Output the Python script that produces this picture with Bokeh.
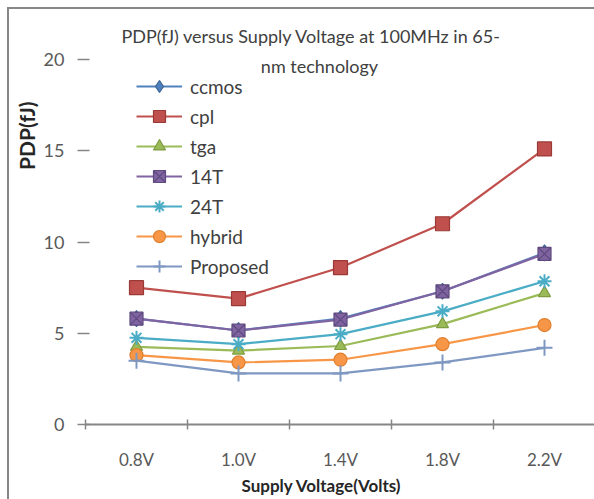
from bokeh.plotting import figure
from bokeh.models import Range1d, FixedTicker, Label, Title
from bokeh.embed import file_html
from bokeh.resources import INLINE

# ---- data ----
categories = ["0.8V", "1.0V", "1.4V", "1.8V", "2.2V"]
ccmos = [5.8, 5.15, 5.8, 7.3, 9.4]
cpl = [7.5, 6.9, 8.6, 11.0, 15.1]
tga = [4.25, 4.05, 4.3, 5.5, 7.2]
t14 = [5.8, 5.15, 5.75, 7.3, 9.35]
t24 = [4.75, 4.4, 4.95, 6.2, 7.85]
hybrid = [3.8, 3.4, 3.55, 4.4, 5.45]
proposed = [3.5, 2.8, 2.8, 3.4, 4.2]
y_ticks = [0, 5, 10, 15, 20]

title_line1 = "PDP(fJ) versus Supply Voltage at 100MHz in 65-"
title_line2 = "nm technology"
x_title = "Supply Voltage(Volts)"
y_title = "PDP(fJ)"

xs = [i + 0.5 for i in range(len(categories))]

FONT = "Lato"

p = figure(frame_width=510, frame_height=365, output_backend="svg", toolbar_location=None,
           x_range=Range1d(0, 5), y_range=Range1d(0, 20),
           min_border_left=75, min_border_right=0, min_border_top=50,
           min_border_bottom=75)
p.styles = {"border-left": "2px solid #878787", "border-top": "2px solid #878787",
            "margin-left": "7px", "margin-top": "7px"}
p.background_fill_color = "white"
p.border_fill_color = "white"
p.outline_line_color = None
p.xgrid.visible = False
p.ygrid.visible = False

# x axis
xa = p.xaxis[0]
xa.ticker = FixedTicker(ticks=xs, minor_ticks=list(range(len(categories) + 1)))
xa.major_label_overrides = {x: c for x, c in zip(xs, categories)}
xa.axis_line_color = "#868686"
xa.axis_line_width = 2
xa.major_tick_line_color = None
xa.major_tick_in = 0
xa.major_tick_out = 0
xa.minor_tick_line_color = "#868686"
xa.minor_tick_line_width = 1.5
xa.minor_tick_in = 5
xa.minor_tick_out = 5
xa.major_label_standoff = 19
xa.major_label_text_font = FONT
xa.major_label_text_font_size = "17px"
xa.major_label_text_color = "#595959"

# y axis
ya = p.yaxis[0]
ya.ticker = FixedTicker(ticks=y_ticks, minor_ticks=[])
ya.axis_line_color = None
ya.major_tick_line_color = "#868686"
ya.major_tick_line_width = 1.5
ya.major_tick_in = 4
ya.major_tick_out = 8
ya.minor_tick_line_color = None
ya.major_label_standoff = 13
ya.major_label_text_font = FONT
ya.major_label_text_font_size = "18px"
ya.major_label_text_color = "#595959"

series = [
    ("ccmos", ccmos, "#4F81BD", "diamond", 16, "#3A6396"),
    ("cpl", cpl, "#C0504D", "square", 14, "#9A3A37"),
    ("tga", tga, "#9BBB59", "triangle", 12, "#7E9C42"),
    ("14T", t14, "#8064A2", "square_x", 13, "#5E4A7E"),
    ("24T", t24, "#4BACC6", "asterisk", 14, "#4BACC6"),
    ("hybrid", hybrid, "#F79646", "circle", 13, "#E07F2E"),
    ("Proposed", proposed, "#7F98C2", "cross", 16, "#7F98C2"),
]

for name, vals, col, mk, sz, lc in series:
    p.line(xs, vals, line_color=col, line_width=2.2, legend_label=name)
    p.scatter(xs, vals, marker=mk, size=sz, fill_color=col, line_color=lc,
              line_width=2 if mk in ("asterisk", "cross") else 1.2,
              legend_label=name)

lg = p.legend[0]
lg.location = (51, 143)
lg.background_fill_alpha = 0
lg.border_line_color = None
lg.padding = 0
lg.margin = 0
lg.spacing = 0
lg.glyph_width = 46
lg.glyph_height = 30
lg.label_height = 30
lg.label_standoff = 8
lg.label_text_font = FONT
lg.label_text_font_size = "19px"
lg.label_text_color = "#404040"

def px_to_x(px):
    return (px - 84) / 102.0

def py_to_y(py):
    return (424 - py) / 18.25

p.add_layout(Title(text=title_line1, align="left", offset=36, standoff=26,
                   text_font=FONT, text_font_size="18px", text_font_style="normal",
                   text_color="#404040"), "above")
p.add_layout(Label(x=px_to_x(318), y=py_to_y(65), text=title_line2,
                   text_align="center", text_baseline="middle",
                   text_font=FONT, text_font_size="18px", text_color="#404040"))
p.add_layout(Title(text=y_title, align="right", offset=42, standoff=4,
                   text_font=FONT, text_font_size="21px", text_font_style="bold",
                   text_color="#262626"), "left")
p.add_layout(Title(text=x_title, align="left", offset=156, standoff=0,
                   text_font=FONT, text_font_size="17px", text_font_style="bold",
                   text_color="#262626"), "below")

open("out.html", "w").write(file_html(p, INLINE))
